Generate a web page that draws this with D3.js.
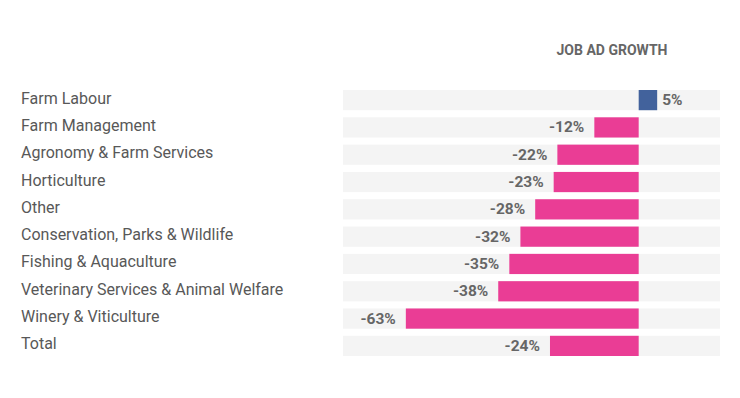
<!DOCTYPE html>
<html>
<head>
<meta charset="utf-8">
<script src="https://cdn.jsdelivr.net/npm/d3@7"></script>
<style>
  body { margin: 0; background: #fff; }
  svg { display: block; font-family: Roboto, "Noto Sans", sans-serif; }
</style>
</head>
<body>
<svg id="chart" width="740" height="398"></svg>
<script>
const categories = [
  "Farm Labour",
  "Farm Management",
  "Agronomy & Farm Services",
  "Horticulture",
  "Other",
  "Conservation, Parks & Wildlife",
  "Fishing & Aquaculture",
  "Veterinary Services & Animal Welfare",
  "Winery & Viticulture",
  "Total",
];
const growth = [5, -12, -22, -23, -28, -32, -35, -38, -63, -24];

const svg = d3.select("#chart");

const x = d3.scaleLinear().domain([-80, 22]).range([343, 720]);
const y = d3.scaleBand().domain(categories).range([90, 356]).paddingInner(0.26).paddingOuter(0);

const data = categories.map((c, i) => ({ name: c, value: growth[i] }));

// title
svg.append("text")
  .attr("x", 612)
  .attr("y", 55)
  .attr("text-anchor", "middle")
  .attr("font-size", 14)
  .attr("font-weight", "bold")
  .attr("fill", "#666")
  .text("JOB AD GROWTH");

const rows = svg.selectAll("g.row")
  .data(data)
  .join("g")
  .attr("class", "row")
  .attr("transform", (d) => `translate(0,${y(d.name)})`);

// background track
rows.append("rect")
  .attr("x", x.range()[0])
  .attr("width", x.range()[1] - x.range()[0])
  .attr("height", y.bandwidth())
  .attr("fill", "#f4f4f4");

// category labels
rows.append("text")
  .attr("x", 21)
  .attr("y", y.bandwidth() / 2 + 3.5)
  .attr("font-size", 16)
  .attr("fill", "#585858")
  .text((d) => d.name);

// bars
rows.append("rect")
  .attr("x", (d) => x(Math.min(0, d.value)))
  .attr("width", (d) => Math.abs(x(d.value) - x(0)))
  .attr("height", y.bandwidth())
  .attr("fill", (d) => (d.value >= 0 ? "#42629c" : "#ea3d95"));

// value labels
rows.append("text")
  .attr("x", (d) => (d.value >= 0 ? x(d.value) + 5 : x(d.value) - 10))
  .attr("y", y.bandwidth() / 2 + 5)
  .attr("text-anchor", (d) => (d.value >= 0 ? "start" : "end"))
  .attr("font-size", 15.5)
  .attr("font-weight", "bold")
  .attr("fill", "#666")
  .text((d) => `${d.value}%`);
</script>
</body>
</html>
